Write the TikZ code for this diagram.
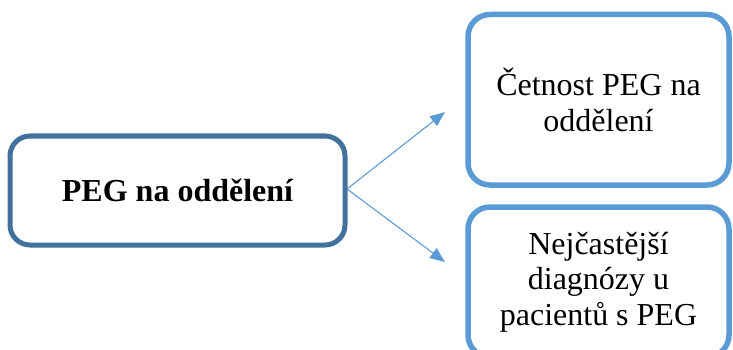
\documentclass[tikz,border=0pt]{standalone}
\usepackage{fontspec}
\setmainfont{Liberation Serif}
\usetikzlibrary{arrows.meta}
\definecolor{darkblue}{HTML}{41719C}
\definecolor{lightblue}{HTML}{5B9BD5}
\tikzset{
  box/.style={rounded corners=20pt, fill=white, align=center, inner sep=0pt,
    font=\fontsize{32}{35.5}\selectfont},
  mainbox/.style={box, draw=darkblue, line width=5pt},
  subbox/.style={box, draw=lightblue, line width=5.5pt, rounded corners=22pt},
  conn/.style={draw=lightblue, line width=1.1pt, -{Triangle[length=15pt,width=12pt]}}
}
\begin{document}
\begin{tikzpicture}[x=1pt,y=-1pt]
\useasboundingbox (0,0) rectangle (733,350);
\clip (0,0) rectangle (733,350);
\node[mainbox, minimum width=335pt, minimum height=109pt] (L) at (177.5,190.5) {\bfseries PEG na oddělení};
\node[subbox, minimum width=261pt, minimum height=170.5pt] (T) at (598.5,99.75) {Četnost PEG na\\oddělení};
\node[subbox, minimum width=261pt, minimum height=150pt] (B) at (598.5,282) {Nejčastější\\diagnózy u\\pacientů s PEG};
\coordinate (t1) at (445,112);
\coordinate (t2) at (445,262);
\coordinate (s) at (347,189);
\draw[conn] (s) -- (t1);
\draw[conn] (s) -- (t2);
\end{tikzpicture}
\end{document}
